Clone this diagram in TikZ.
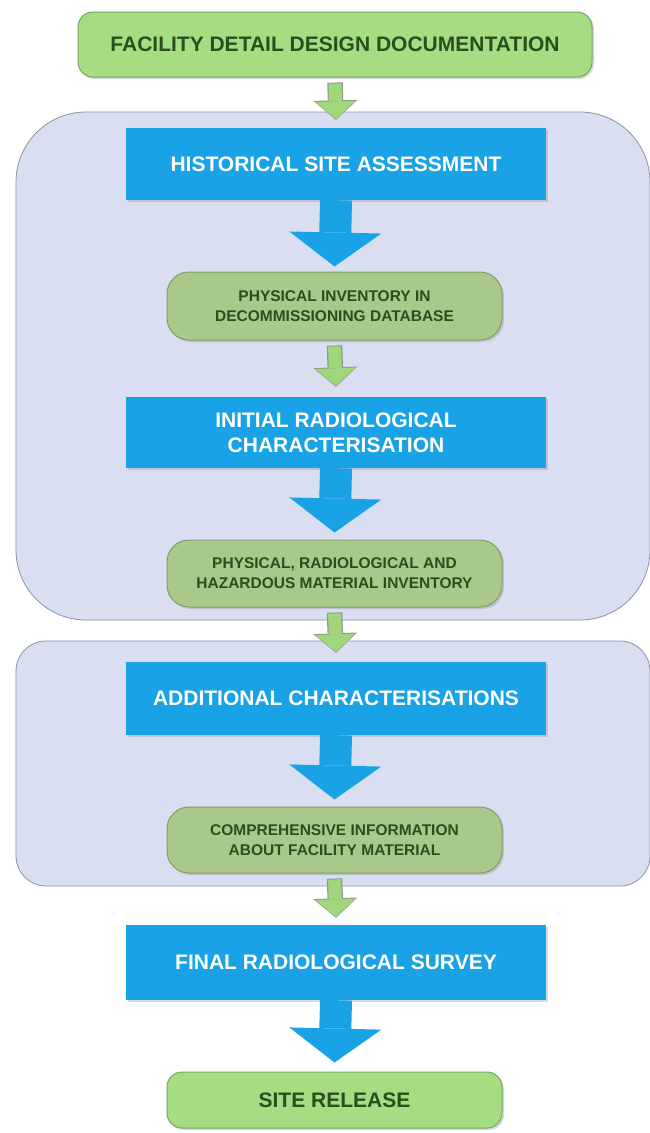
\documentclass[tikz,border=0pt]{standalone}
\usepackage{fontspec}
\setmainfont{Liberation Sans}
\usetikzlibrary{positioning,arrows.meta,shadows}

\definecolor{procblue}{HTML}{19A3E6}
\definecolor{leafgreen}{HTML}{A6DC82}
\definecolor{leafline}{HTML}{74A85C}
\definecolor{sagegreen}{HTML}{A9C98A}
\definecolor{sageline}{HTML}{7F9E68}
\definecolor{greentext}{HTML}{2B4F1C}
\definecolor{phasefill}{HTML}{D9DFF1}
\definecolor{phaseline}{HTML}{8C91A6}
\definecolor{arrowgreen}{HTML}{A0D67C}
\definecolor{arrowrim}{HTML}{8E9C8A}

\begin{document}
\begin{tikzpicture}[
    x=1pt, y=-1pt,
    phase/.style={fill=phasefill, draw=phaseline, line width=0.8pt},
    stage/.style={rectangle, fill=procblue, minimum width=420pt, inner sep=0pt, text=white, align=center,
        font=\fontsize{21}{25}\selectfont\bfseries,
        drop shadow={opacity=0.3, shadow xshift=2pt, shadow yshift=-2pt}},
    record/.style={rectangle, rounded corners=22pt, fill=sagegreen, draw=sageline, line width=1pt,
        minimum width=335pt, inner sep=0pt, text=greentext, align=center,
        font=\fontsize{15.5}{20}\selectfont\bfseries,
        drop shadow={opacity=0.3, shadow xshift=2pt, shadow yshift=-2pt}},
    milestone/.style={record, rounded corners=15pt, fill=leafgreen, draw=leafline,
        font=\fontsize{21}{25}\selectfont\bfseries},
    bigflow/.style={procblue, line width=32pt, -{Triangle[width=92pt, length=34pt, line width=0pt]}},
    smallrim/.style={arrowrim, line width=15.5pt, -{Triangle[width=44pt, length=19.5pt, line width=0pt]}},
    smallflow/.style={arrowgreen, line width=13pt, shorten >=1pt, shorten <=1pt,
        -{Triangle[width=40pt, length=17.5pt, line width=0pt]}}
]
\useasboundingbox (0,0) rectangle (649,1133);

% === Phase panels ===
\draw[phase, rounded corners=70pt] (16,112) rectangle (650,620);
\draw[phase, rounded corners=30pt] (16,641) rectangle (650,886);

% === Steps ===
\node[milestone, minimum width=514pt, minimum height=65pt] (fddd) at (335,44.5) {FACILITY DETAIL DESIGN DOCUMENTATION};

\node[stage, minimum height=72pt] (hsa) at (336,164) {HISTORICAL SITE ASSESSMENT};
\node[record, minimum height=68pt] (pidb) at (334.5,306) {PHYSICAL INVENTORY IN\\DECOMMISSIONING DATABASE};

\node[stage, minimum height=71pt] (irc) at (336,432.5) {INITIAL RADIOLOGICAL\\CHARACTERISATION};
\node[record, minimum height=67pt] (prhmi) at (334.5,573.5) {PHYSICAL, RADIOLOGICAL AND\\HAZARDOUS MATERIAL INVENTORY};

\node[stage, minimum height=73pt] (ac) at (336,698.5) {ADDITIONAL CHARACTERISATIONS};
\node[record, minimum height=66pt] (cifm) at (334.5,840) {COMPREHENSIVE INFORMATION\\ABOUT FACILITY MATERIAL};

\node[stage, minimum height=75pt] (frs) at (336,962.5) {FINAL RADIOLOGICAL SURVEY};
\node[milestone, minimum height=56pt] (sr) at (334.5,1100) {SITE RELEASE};

% === Flow arrows ===
\foreach \a/\b/\gap in {hsa/pidb/5pt, irc/prhmi/7pt, ac/cifm/7pt, frs/sr/9pt}
    \draw[bigflow] (\a.south) -- ([yshift=\gap]\b.north);

\foreach \a/\b/\gap in {fddd/hsa/8pt, pidb/irc/10pt, prhmi/ac/9pt, cifm/frs/7pt} {
    \draw[smallrim] ([yshift=-5pt]\a.south) -- ([yshift=\gap]\b.north);
    \draw[smallflow] ([yshift=-5pt]\a.south) -- ([yshift=\gap]\b.north);
}
\end{tikzpicture}
\end{document}
